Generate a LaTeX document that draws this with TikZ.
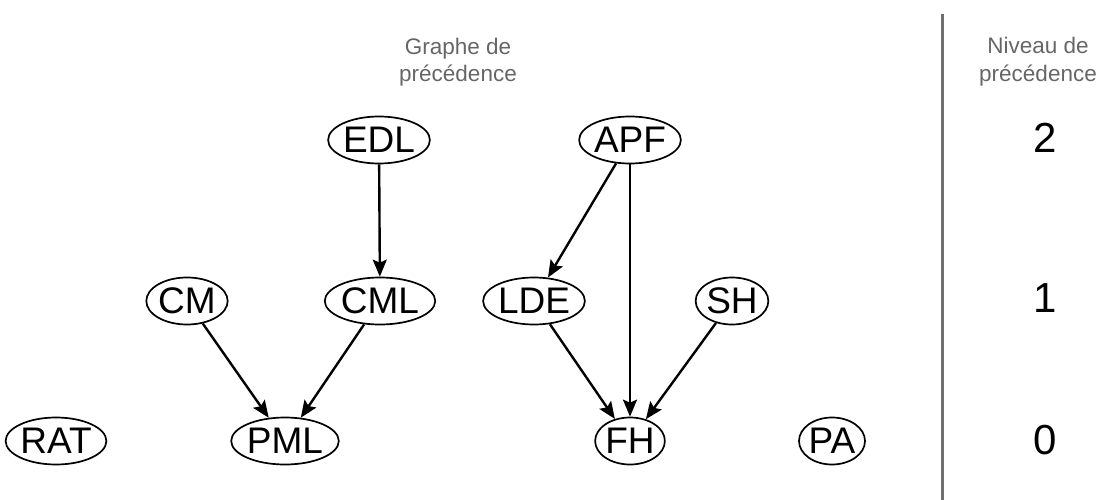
\documentclass[tikz,border=0pt]{standalone}
\usepackage{fontspec}
\setmainfont{Liberation Sans}
\usetikzlibrary{shapes.geometric,arrows.meta}
\definecolor{hdr}{HTML}{666666}
\definecolor{rule}{HTML}{707070}
\tikzset{
  task/.style={ellipse, draw, line width=1.7pt, inner sep=0pt,
    minimum height=47pt, font=\fontsize{37}{40}\selectfont},
  level/.style={font=\fontsize{42}{46}\selectfont},
  head/.style={text=hdr, anchor=base, inner sep=0pt, font=\fontsize{22.5}{27}\selectfont},
  dep/.style={line width=2.4pt, -{Stealth[length=17pt,width=14pt,inset=3pt]}}
}
\begin{document}
\begin{tikzpicture}[x=1pt,y=-1pt]
\useasboundingbox (0,0) rectangle (1102,500);
\node[head] (hg1) at (458,55) {Graphe de};
\node[head] (hg2) at (458,82) {précédence};
\node[head] (hn1) at (1038,54) {Niveau de};
\node[head] (hn2) at (1038,82) {précédence};
\coordinate (rt) at (942,14);
\coordinate (rb) at (942,500);
\draw[rule, line width=3pt] (rt) -- (rb);
\node[level] (l2) at (1045,138) {2};
\node[level] (l1) at (1045,298) {1};
\node[level] (l0) at (1045,440) {0};
\node[task, minimum width=93pt] (EDL) at (379,140) {EDL};
\node[task, minimum width=93pt] (APF) at (630,140) {APF};
\node[task, minimum width=67pt] (CM) at (187,301) {CM};
\node[task, minimum width=92pt] (CML) at (380,301) {CML};
\node[task, minimum width=92pt] (LDE) at (534,301) {LDE};
\node[task, minimum width=66pt] (SH) at (732,301) {SH};
\node[task, minimum width=93pt] (RAT) at (56,441) {RAT};
\node[task, minimum width=93pt] (PML) at (285,441) {PML};
\node[task, minimum width=65pt] (FH) at (630,441) {FH};
\node[task, minimum width=66pt] (PA) at (832,441) {PA};
\draw[dep] (EDL) -- (CML);
\draw[dep] (APF) -- (LDE);
\draw[dep] (APF) -- (FH);
\draw[dep] (CM) -- (PML);
\draw[dep] (CML) -- (PML);
\draw[dep] (LDE) -- (FH);
\draw[dep] (SH) -- (FH);
\end{tikzpicture}
\end{document}
